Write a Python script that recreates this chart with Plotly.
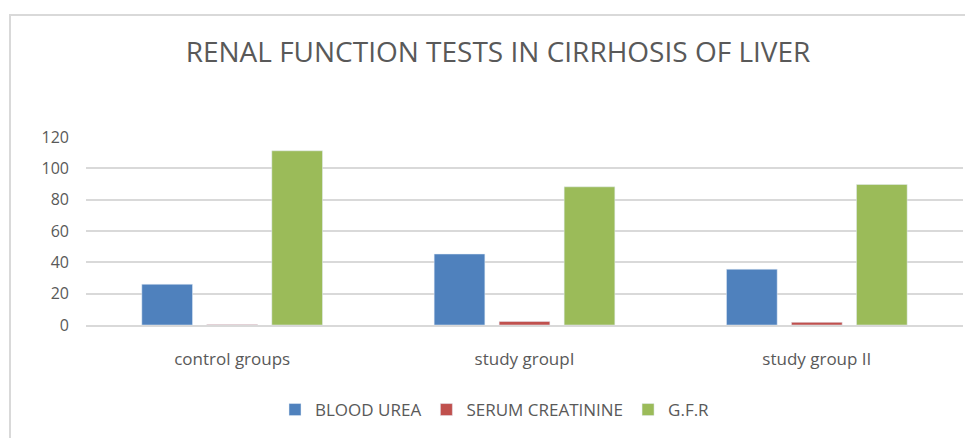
import plotly.graph_objects as go

categories = ["control groups", "study groupI", "study group II"]
blood_urea = [26, 45.3, 35.6]
serum_creatinine = [0.3, 2.3, 1.7]
gfr = [111.2, 88.2, 89.7]
tick_vals = [0, 20, 40, 60, 80, 100, 120]

FONT = "Open Sans, sans-serif"
# page is offset by 8px body margin; figure is sized to fill the rest
W, H = 965, 430
L, R, T, B = 78, 10, 129, 113
pw = W - L - R
ph = H - T - B

fig = go.Figure()
fig.add_bar(name="BLOOD UREA", x=categories, y=blood_urea, marker_color="#4f81bd")
fig.add_bar(name="SERUM CREATININE", x=categories, y=serum_creatinine, marker_color="#c0504d")
fig.add_bar(name="G.F.R", x=categories, y=gfr, marker_color="#9bbb59")

# outer chart border
fig.add_shape(type="rect", xref="paper", yref="paper",
              x0=(2 - L) / pw, x1=(W + 10 - L) / pw,
              y0=(H - B - (H + 10)) / ph, y1=(H - B - 7) / ph,
              line=dict(color="#d9d9d9", width=2), fillcolor="rgba(0,0,0,0)", layer="below")

fig.update_layout(
    width=W, height=H,
    margin=dict(l=L, r=R, t=T, b=B),
    paper_bgcolor="white", plot_bgcolor="white",
    barmode="group", bargap=0.333, bargroupgap=0.22,
    title=dict(text="RENAL FUNCTION TESTS IN CIRRHOSIS OF LIVER",
               x=490 / W, xref="container", xanchor="center",
               y=1 - 44 / H, yref="container", yanchor="middle",
               font=dict(family=FONT, size=28, color="#595959")),
    font=dict(family=FONT, color="#595959"),
    showlegend=True,
    legend=dict(orientation="h", xref="container", yref="container",
                x=487 / W, xanchor="center", y=1 - 402 / H, yanchor="middle",
                font=dict(family=FONT, size=17, color="#595959"),
                itemwidth=30, traceorder="normal"),
    xaxis=dict(showgrid=False, showline=True, linecolor="#d9d9d9", linewidth=1.5,
               ticks="", tickfont=dict(family=FONT, size=17, color="#595959"),
               ticklabelstandoff=18),
    yaxis=dict(range=[0, 120], tickvals=tick_vals, showgrid=True, gridcolor="#d9d9d9",
               gridwidth=1.5, zeroline=False, showline=False, ticks="",
               tickfont=dict(family=FONT, size=16, color="#595959"),
               ticklabelstandoff=16),
)

fig.write_html("out.html")
